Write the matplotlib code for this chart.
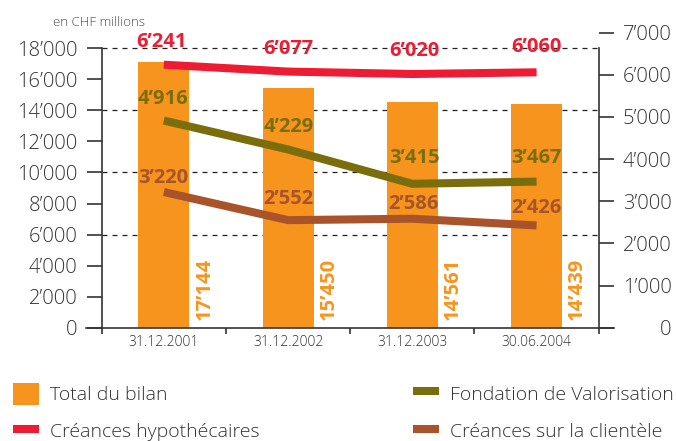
import matplotlib
matplotlib.use("Agg")
import matplotlib.pyplot as plt

plt.rcParams['font.family'] = ['Open Sans', 'DejaVu Sans']

# ---------------- data ----------------
categories = ["31.12.2001", "31.12.2002", "31.12.2003", "30.06.2004"]
total_bilan = [17144, 15450, 14561, 14439]
creances_hypo = [6241, 6077, 6020, 6060]
fondation_val = [4916, 4229, 3415, 3467]
creances_client = [3220, 2552, 2586, 2426]
left_ticks = [0, 2000, 4000, 6000, 8000, 10000, 12000, 14000, 16000, 18000]
right_ticks = [0, 1000, 2000, 3000, 4000, 5000, 6000, 7000]
grid_values = [6000, 10000, 14000, 18000]
series_names = ["Total du bilan", "Créances hypothécaires",
                "Fondation de Valorisation", "Créances sur la clientèle"]

# ---------------- style / layout ----------------
ORANGE = "#F7941D"
RED = "#ED1C33"
OLIVE = "#7A6E0C"
BROWN = "#A8532A"
DARK = "#333333"

def fmt(v):
    return f"{v:,}".replace(",", "\u2019")

# label offsets in pixels (dx, dy to baseline) relative to each data point
red_off = [(-2, 18), (0, 18), (2, 18), (0, 20)]
olive_off = [(-1, 17), (1, 17), (2, 21), (0, 19)]
brown_off = [(-1, 9), (0, 16), (1, 10), (0, 12)]

W, H = 676, 441
fig = plt.figure(figsize=(W / 100, H / 100), dpi=100)
x0, x1 = 101.7, 598.7
y_bot, y_top = 327.7, 32.7
ax = fig.add_axes([x0 / W, 1 - y_bot / H, (x1 - x0) / W, (y_bot - y_top) / H])
ax2 = ax.twinx()

LEFT_TOP = 18000 * (y_bot - y_top) / (y_bot - 48.3)
RIGHT_TOP = 7000

x = list(range(len(categories)))
BAR_W = 0.41

ax.set_xlim(-0.5, len(categories) - 0.5)
ax.set_ylim(0, LEFT_TOP)
ax2.set_ylim(0, RIGHT_TOP)

# grid (dashed)
for g in grid_values:
    ax.axhline(g, color="#222222", lw=0.9, ls=(0, (4, 4)), zorder=1)

bars = ax.bar(x, total_bilan, width=BAR_W, color=ORANGE, zorder=2,
              label=series_names[0])

for i, v in enumerate(total_bilan):
    ax.annotate(fmt(v), xy=(i + BAR_W / 2, 0), xytext=(15, 8),
                textcoords="offset pixels", rotation=90, ha="center",
                va="bottom", color=ORANGE, fontsize=14.5, fontweight="bold",
                zorder=5)

lw = 5.8
l_red, = ax2.plot(x, creances_hypo, color=RED, lw=lw, solid_capstyle="butt",
                  solid_joinstyle="round", zorder=3, label=series_names[1])
l_olive, = ax2.plot(x, fondation_val, color=OLIVE, lw=lw, solid_capstyle="butt",
                    solid_joinstyle="round", zorder=3, label=series_names[2])
l_brown, = ax2.plot(x, creances_client, color=BROWN, lw=lw, solid_capstyle="butt",
                    solid_joinstyle="round", zorder=3, label=series_names[3])

for vals, offs, col in [(creances_hypo, red_off, RED),
                        (fondation_val, olive_off, OLIVE),
                        (creances_client, brown_off, BROWN)]:
    for i, v in enumerate(vals):
        ax2.annotate(fmt(v), xy=(i, v), xytext=offs[i],
                     textcoords="offset pixels", ha="center", va="baseline",
                     color=col, fontsize=14.5, fontweight="bold", zorder=6)

# spines
for s in ["top", "right", "bottom"]:
    ax.spines[s].set_visible(False)
for s in ["top", "left", "bottom"]:
    ax2.spines[s].set_visible(False)
ax.spines["left"].set_bounds(0, 18000)
ax.spines["left"].set_color(DARK)
ax.spines["left"].set_linewidth(1.2)
ax2.spines["right"].set_bounds(0, 18000 * RIGHT_TOP / LEFT_TOP)
ax2.spines["right"].set_color(DARK)
ax2.spines["right"].set_linewidth(1.2)

# baseline extended beyond both axes
ax.axhline(0, xmin=-16 / (x1 - x0), xmax=1 + 15 / (x1 - x0), color=DARK,
           lw=1.2, clip_on=False, zorder=4)

# left ticks
ax.set_yticks(left_ticks)
ax.set_yticklabels([fmt(t) for t in left_ticks])
ax.tick_params(axis="y", direction="out", length=10.5, width=1.2,
               color=DARK, labelcolor=DARK, labelsize=14.5, pad=7)

# right ticks (right-aligned labels)
ax2.set_yticks(right_ticks)
ax2.set_yticklabels([fmt(t) for t in right_ticks])
ax2.tick_params(axis="y", direction="out", length=10.5, width=1.2,
                color=DARK, labelcolor=DARK, labelsize=14.5, pad=42)
for lab in ax2.get_yticklabels():
    lab.set_horizontalalignment("right")

# x ticks: boundaries as major ticks, labels on minor ticks at centers
ax.set_xticks([i - 0.5 for i in range(len(categories) + 1)])
ax.set_xticklabels([""] * (len(categories) + 1))
ax.set_xticks(x, minor=True)
ax.set_xticklabels(categories, minor=True)
ax.tick_params(axis="x", which="major", direction="out", length=4, width=1.2,
               color=DARK)
ax.tick_params(axis="x", which="minor", length=0, pad=5, labelsize=10,
               labelcolor=DARK)

for lab in (ax.get_yticklabels() + ax2.get_yticklabels()
            + ax.get_xticklabels(minor=True)):
    lab.set_fontweight("light")

# unit label
fig.text(53 / W, 1 - 26 / H, "en CHF millions", fontsize=9.5, color="#4d4d4d",
         ha="left", va="baseline", fontweight="light")

# legends
leg_kw = dict(handlelength=1.35, handleheight=1.35,
              handletextpad=0.55, labelspacing=0.8, borderpad=0,
              borderaxespad=0, frameon=False, loc="upper left",
              bbox_transform=fig.transFigure, labelcolor=DARK,
              prop={"size": 14, "weight": "light"})
fig.legend([bars, l_red], [series_names[0], series_names[1]],
           bbox_to_anchor=(13 / W, 1 - 382.7 / H), **leg_kw)
fig.legend([l_olive, l_brown], [series_names[2], series_names[3]],
           bbox_to_anchor=(413 / W, 1 - 382.7 / H), **leg_kw)

fig.savefig("out.png", dpi=100)
